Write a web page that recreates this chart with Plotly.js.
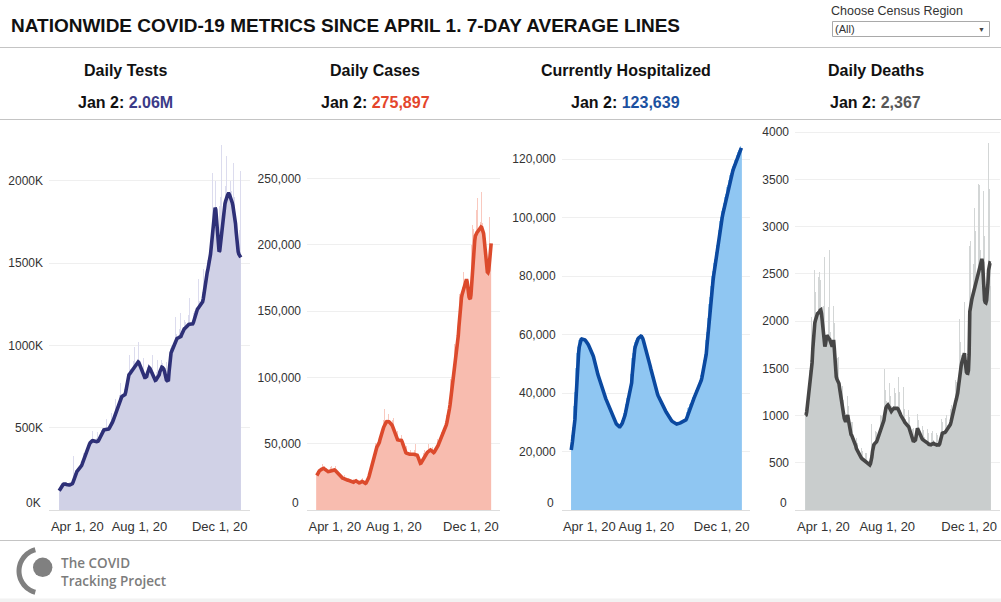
<!DOCTYPE html>
<html><head><meta charset="utf-8">
<script src="https://cdn.plot.ly/plotly-3.0.1.min.js"></script>
<style>html,body{margin:0;padding:0;background:#fff;overflow:hidden}#chart{width:1001px;height:602px}</style>
</head><body><div id="chart"></div>
<script>
// ---------- DATA (day 0 = 2020-04-01, last = 2021-01-02) ----------
const startDate = '2020-04-01';
const xTickVals = ['2020-04-01', '2020-08-01', '2020-12-01'];
const xTickText = ['\u00a0\u00a0\u00a0\u00a0\u00a0\u00a0\u00a0\u00a0\u00a0\u00a0Apr 1, 20', 'Aug 1, 20', 'Dec 1, 20'];
const panelTitles = ['Daily Tests', 'Daily Cases', 'Currently Hospitalized', 'Daily Deaths'];
const latestLabels = ['2.06M', '275,897', '123,639', '2,367'];

// Daily tests (thousands)
const testsDaily = [
117,131,154,147,230,134,155,
157,166,180,162,140,135,152,
152,160,173,158,139,137,160,
168,330,222,216,200,202,235,
240,256,283,260,230,231,270,
280,307,348,328,297,297,345,
352,380,428,400,360,359,414,
418,441,480,434,378,370,418,
416,436,473,431,382,380,442,
455,489,540,494,437,429,488,
488,512,556,504,441,433,496,
502,536,591,542,481,479,556,
568,609,675,622,554,553,642,
655,699,771,705,619,609,694,
696,733,800,736,666,678,795,
812,863,942,857,756,744,850,
855,903,990,902,796,783,895,
898,945,1021,913,788,761,855,
840,866,926,832,725,709,808,
812,872,969,888,778,757,852,
845,880,944,839,722,699,788,
790,836,914,830,729,723,840,
856,909,1050,892,776,753,842,
820,840,901,810,707,695,840,
900,987,1150,994,878,867,993,
1005,1069,1174,1069,938,919,1046,
1048,1103,1199,1087,959,949,1090,
1097,1155,1257,1141,1003,986,1124,
1128,1184,1287,1164,1017,995,1131,
1132,1197,1317,1210,1076,1063,1214,
1220,1286,1402,1271,1114,1093,1248,
1256,1328,1465,1354,1215,1219,1410,
1428,1517,1667,1524,1347,1338,1555,
1595,1717,2050,1751,1575,1750,2000,
2000,1200,1500,1650,1450,1500,1850,
1900,1748,2220,1800,1610,1600,1845,
1862,1972,2150,2000,1720,1690,2110,
1915,2000,2170,1940,1680,1630,2110,
1900,1950,1150,1450,1400,1450,1600,
1550,1700,1250,2060];
// 7-day average tests (thousands)
const testsAvg = [
117,125,135,143,148,152,155,
157,158,158,157,155,153,152,
152,152,152,153,154,156,160,
168,180,195,210,222,230,235,
240,244,248,252,256,262,270,
280,292,305,318,330,338,345,
352,362,375,388,400,408,414,
418,420,421,421,420,420,418,
416,415,415,418,424,432,442,
455,466,474,480,485,487,488,
488,488,488,489,490,492,496,
502,510,518,526,534,544,556,
568,580,592,604,616,628,642,
655,666,676,684,688,692,694,
696,698,702,715,740,770,795,
812,822,826,832,840,846,850,
855,860,868,876,884,890,895,
898,900,896,886,875,865,855,
840,825,812,808,806,806,808,
812,830,850,862,864,860,852,
845,838,828,815,802,794,788,
790,796,802,806,810,822,840,
856,866,868,866,862,856,842,
820,800,790,786,786,790,840,
900,940,955,965,975,985,993,
1005,1018,1030,1038,1042,1044,1046,
1048,1050,1052,1055,1065,1078,1090,
1097,1100,1103,1108,1114,1120,1124,
1128,1128,1129,1130,1130,1131,1131,
1132,1140,1155,1175,1195,1208,1214,
1220,1225,1230,1234,1238,1242,1248,
1256,1265,1285,1315,1350,1385,1410,
1428,1445,1462,1480,1497,1520,1555,
1595,1635,1670,1700,1750,1800,1838,
1825,1780,1720,1660,1600,1570,1575,
1615,1665,1705,1750,1790,1822,1845,
1862,1878,1895,1905,1915,1922,1922,
1915,1905,1892,1880,1868,1850,1828,
1805,1778,1740,1690,1630,1595,1570,
1555,1545,1538,1535];

// Daily cases (thousands)
const casesDaily = [
26.5,28.6,30.8,29.1,26.0,26.4,30.5,
31.3,33.3,34.7,31.9,27.6,27.3,30.5,
30.6,31.9,32.7,29.6,25.4,25.5,29.2,
30.1,32.1,33.4,30.6,26.7,26.8,30.4,
30.8,32.4,33.0,29.6,24.9,24.3,27.0,
26.9,27.9,28.2,25.3,21.6,21.3,24.0,
24.3,25.4,26.1,23.5,20.1,20.0,22.6,
23.0,24.2,24.9,22.4,19.1,18.8,21.1,
21.3,22.5,23.4,21.7,19.2,19.4,22.0,
22.0,22.8,23.2,20.9,18.0,18.1,20.9,
21.6,23.1,24.1,21.7,18.5,18.0,20.2,
20.5,22.0,23.7,22.6,20.4,21.3,25.8,
28.4,32.2,35.3,33.7,30.8,32.7,39.5,
42.3,47.0,50.4,47.2,41.6,42.4,48.8,
50.5,55.1,59.4,56.3,50.2,51.3,59.6,
62.2,67.5,76.5,66.5,58.1,58.4,66.6,
68.0,72.0,75.5,67.5,57.9,57.5,64.7,
65.3,68.0,69.2,61.6,51.7,50.2,55.5,
55.4,57.7,59.2,53.8,46.4,46.6,53.0,
54.0,56.7,57.7,50.8,42.1,40.5,44.6,
44.7,46.7,47.9,43.4,37.2,37.0,42.0,
42.8,45.4,47.2,42.9,37.1,37.1,42.1,
42.8,45.1,50.0,42.4,36.6,36.3,40.2,
39.3,39.7,39.9,35.9,31.2,31.9,37.5,
39.6,43.0,45.5,42.0,36.8,37.3,42.9,
44.3,47.4,49.7,45.8,39.8,39.8,44.9,
45.2,47.2,48.5,44.2,38.5,39.1,45.2,
46.8,50.3,53.2,49.6,43.8,44.9,52.3,
54.6,58.9,62.0,57.4,50.2,50.9,59.0,
61.7,67.3,71.9,67.3,59.8,62.0,73.2,
77.8,85.9,99.0,89.8,81.4,84.9,100.5,
107.1,125.0,142.0,120.0,101.6,105.2,130.0,
140.0,150.0,163.0,155.0,137.7,140.8,162.0,
167.8,179.3,196.0,172.4,150.5,152.2,172.0,
182.0,110.0,150.0,155.0,138.0,158.0,180.0,
200.0,215.0,230.0,212.0,180.0,185.0,206.0,
212.0,226.0,235.0,214.0,185.0,186.0,212.0,
217.0,230.0,240.0,216.0,185.0,183.0,198.0,
195.0,205.0,98.0,155.0,150.0,160.0,185.0,
221.0,225.0,152.0,275.897];
// 7-day average cases (thousands)
const casesAvg = [
26.0,26.5,27.5,28.5,29.5,30.0,30.5,
30.7,30.8,31.0,31.3,31.4,31.0,30.5,
30.0,29.5,29.2,29.0,28.9,29.0,29.2,
29.5,29.7,29.8,30.0,30.3,30.5,30.4,
30.2,30.0,29.5,29.0,28.3,27.6,27.0,
26.4,25.8,25.2,24.8,24.5,24.2,24.0,
23.8,23.5,23.3,23.0,22.8,22.7,22.6,
22.5,22.4,22.2,22.0,21.7,21.4,21.1,
20.9,20.8,20.9,21.3,21.8,22.1,22.0,
21.6,21.1,20.7,20.5,20.5,20.6,20.9,
21.2,21.4,21.5,21.3,21.0,20.5,20.2,
20.1,20.4,21.2,22.2,23.2,24.2,25.8,
27.8,29.8,31.5,33.0,35.0,37.2,39.5,
41.5,43.5,45.0,46.3,47.3,48.2,48.8,
49.5,51.0,53.0,55.2,57.0,58.3,59.6,
61.0,62.5,64.0,65.2,66.0,66.4,66.6,
66.7,66.7,66.5,66.2,65.8,65.3,64.7,
64.0,63.0,61.8,60.4,58.7,57.0,55.5,
54.3,53.4,52.9,52.7,52.7,52.9,53.0,
52.9,52.5,51.5,49.8,47.8,46.0,44.6,
43.8,43.2,42.8,42.5,42.3,42.1,42.0,
42.0,42.0,42.1,42.1,42.2,42.2,42.1,
42.0,41.8,41.7,41.6,41.6,41.3,40.2,
38.5,36.8,35.6,35.2,35.4,36.2,37.5,
38.8,39.8,40.6,41.2,41.8,42.4,42.9,
43.4,43.9,44.4,44.9,45.2,45.2,44.9,
44.3,43.7,43.3,43.3,43.7,44.4,45.2,
45.9,46.6,47.5,48.6,49.8,51.0,52.3,
53.5,54.5,55.4,56.3,57.0,57.8,59.0,
60.5,62.3,64.2,66.0,68.0,70.5,73.2,
76.3,79.5,83.5,88.0,92.5,96.5,100.5,
105.0,108.5,110.5,112.5,115.5,119.5,125.0,
131.5,138.5,145.5,152.0,156.5,160.0,162.5,
164.5,166.0,167.5,169.0,171.0,173.0,174.0,
172.0,167.0,162.5,160.5,159.5,159.0,162.0,
170.0,178.0,185.5,192.0,198.0,203.0,206.5,
208.0,209.0,209.5,210.0,210.8,211.5,212.0,
212.8,213.3,213.0,212.0,210.5,208.5,204.0,
198.5,193.5,188.5,183.0,179.5,179.0,180.5,
185.0,192.5,199.0,201.0];

// Currently hospitalized (thousands)
const hospDaily = [
25.5,27.0,28.3,31.0,35.5,40.5,45.0,
48.5,51.5,53.8,55.8,57.2,58.0,58.3,
58.5,58.5,58.5,58.4,58.3,58.2,58.0,
57.8,57.5,57.2,56.8,56.4,56.0,55.5,
55.0,54.5,54.0,53.5,53.0,52.5,51.8,
51.0,50.0,49.0,48.2,47.4,46.5,45.8,
45.0,44.2,43.5,42.8,42.0,41.3,40.6,
40.0,39.5,39.0,38.6,38.1,37.6,37.1,
36.6,36.1,35.6,35.0,34.4,33.8,33.2,
32.6,32.0,31.5,31.0,30.6,30.2,29.8,
29.5,29.3,29.0,28.8,28.6,28.5,28.5,
28.7,29.0,29.4,29.8,30.3,30.8,31.5,
32.3,33.2,34.2,35.3,36.4,37.5,38.4,
39.0,39.5,40.3,41.5,43.5,46.5,49.5,
52.0,53.8,55.0,56.0,56.8,57.5,58.0,
58.4,58.8,59.1,59.3,59.4,59.5,59.4,
59.2,58.7,58.0,57.3,56.6,55.9,55.1,
54.3,53.5,52.7,51.9,51.1,50.2,49.3,
48.4,47.5,46.6,45.7,44.8,43.9,43.0,
42.2,41.5,40.8,40.2,39.6,39.1,38.6,
38.1,37.7,37.2,36.8,36.3,35.9,35.4,
35.0,34.6,34.3,33.9,33.5,33.1,32.7,
32.3,32.0,31.7,31.4,31.1,30.8,30.5,
30.3,30.1,29.9,29.7,29.6,29.5,29.5,
29.4,29.4,29.4,29.5,29.6,29.7,29.8,
29.9,30.0,30.1,30.2,30.3,30.4,30.5,
30.6,30.8,31.2,31.8,32.6,33.4,34.2,
34.9,35.4,35.8,36.2,36.6,37.1,37.6,
38.2,38.7,39.2,39.7,40.1,40.5,40.9,
41.3,41.8,42.3,42.9,43.6,44.4,45.3,
46.3,47.3,48.2,49.0,50.0,51.4,53.3,
55.7,58.3,60.8,63.3,65.8,68.2,70.5,
72.7,74.7,76.6,78.4,80.1,81.7,83.2,
84.6,85.8,87.0,88.2,89.3,90.6,92.2,
94.0,95.8,97.6,99.0,100.2,101.3,102.3,
103.2,104.0,104.9,105.9,107.0,108.2,109.4,
110.4,111.3,112.1,112.9,113.7,114.5,115.2,
115.9,116.6,117.2,117.8,118.4,119.0,119.6,
120.2,120.8,121.4,122.0,122.6,123.1,123.5,
123.9,124.3,124.6,123.639];
const hospAvg = [
20.5,21.5,23.5,25.5,27.0,28.3,31.0,
35.5,40.5,45.0,48.5,51.5,53.8,55.8,
57.2,58.0,58.3,58.5,58.5,58.5,58.4,
58.3,58.2,58.0,57.8,57.5,57.2,56.8,
56.4,56.0,55.5,55.0,54.5,54.0,53.5,
53.0,52.5,51.8,51.0,50.0,49.0,48.2,
47.4,46.5,45.8,45.0,44.2,43.5,42.8,
42.0,41.3,40.6,40.0,39.5,39.0,38.6,
38.1,37.6,37.1,36.6,36.1,35.6,35.0,
34.4,33.8,33.2,32.6,32.0,31.5,31.0,
30.6,30.2,29.8,29.5,29.3,29.0,28.8,
28.6,28.5,28.5,28.7,29.0,29.4,29.8,
30.3,30.8,31.5,32.3,33.2,34.2,35.3,
36.4,37.5,38.4,39.0,39.5,40.3,41.5,
43.5,46.5,49.5,52.0,53.8,55.0,56.0,
56.8,57.5,58.0,58.4,58.8,59.1,59.3,
59.4,59.5,59.4,59.2,58.7,58.0,57.3,
56.6,55.9,55.1,54.3,53.5,52.7,51.9,
51.1,50.2,49.3,48.4,47.5,46.6,45.7,
44.8,43.9,43.0,42.2,41.5,40.8,40.2,
39.6,39.1,38.6,38.1,37.7,37.2,36.8,
36.3,35.9,35.4,35.0,34.6,34.3,33.9,
33.5,33.1,32.7,32.3,32.0,31.7,31.4,
31.1,30.8,30.5,30.3,30.1,29.9,29.7,
29.6,29.5,29.5,29.4,29.4,29.4,29.5,
29.6,29.7,29.8,29.9,30.0,30.1,30.2,
30.3,30.4,30.5,30.6,30.8,31.2,31.8,
32.6,33.4,34.2,34.9,35.4,35.8,36.2,
36.6,37.1,37.6,38.2,38.7,39.2,39.7,
40.1,40.5,40.9,41.3,41.8,42.3,42.9,
43.6,44.4,45.3,46.3,47.3,48.2,49.0,
50.0,51.4,53.3,55.7,58.3,60.8,63.3,
65.8,68.2,70.5,72.7,74.7,76.6,78.4,
80.1,81.7,83.2,84.6,85.8,87.0,88.2,
89.3,90.6,92.2,94.0,95.8,97.6,99.0,
100.2,101.3,102.3,103.2,104.0,104.9,105.9,
107.0,108.2,109.4,110.4,111.3,112.1,112.9,
113.7,114.5,115.2,115.9,116.6,117.2,117.8,
118.4,119.0,119.6,120.2,120.8,121.4,122.0,
122.6,123.1,123.5,123.9];

// Daily deaths
const deathsDaily = [
1010,1156,1092,1012,835,959,1480,
1584,1587,2040,2060,1224,1427,2350,
2540,2312,2142,1900,1498,1626,2466,
2520,2432,2226,1914,1447,1498,2159,
2680,1990,1848,1674,1332,1435,2148,
2178,2750,1880,1638,1267,1349,2077,
2160,1978,1659,1334,1015,1080,1611,
1620,1541,1355,1132,850,889,1310,
1272,1162,1019,874,673,749,1168,
1206,1104,945,782,587,624,932,
930,874,782,672,511,530,767,
762,707,625,534,410,440,655,
654,621,559,483,374,402,604,
606,573,515,446,300,372,578,
910,644,651,616,497,546,832,
854,831,777,699,562,624,962,
1008,995,929,833,661,741,1490,
1271,1242,1150,1017,801,858,1350,
1300,1202,1097,971,770,841,1510,
1291,1240,1134,992,775,835,1410,
1254,1179,1055,915,711,761,1300,
1134,1070,964,837,649,698,1048,
1058,989,872,741,569,593,856,
866,840,775,682,562,655,1021,
1020,955,851,730,562,597,887,
894,852,775,676,526,566,853,
858,811,730,635,495,538,820,
840,811,741,644,500,538,812,
826,794,722,635,504,573,1130,
966,934,856,751,589,641,979,
1008,974,898,796,632,696,1068,
1116,1110,1061,966,774,854,1322,
1380,1351,1260,1141,936,1076,2020,
1776,1748,1638,1463,1166,1287,2200,
2280,1200,1400,1100,800,1150,2500,
2800,2850,2600,2250,1450,1600,2600,
3200,2950,2600,2236,1550,1700,3450,
3440,3000,2751,2433,1750,1900,3380,
3250,2900,1500,1450,1400,1900,3300,
3890,3400,2100,2367];
const deathsAvg = [
1000,1005,1040,1100,1160,1230,1290,
1320,1380,1450,1560,1700,1830,1920,
1980,2010,2040,2065,2080,2085,2090,
2100,2115,2120,2080,2010,1920,1830,
1760,1730,1760,1820,1850,1840,1820,
1815,1810,1790,1780,1760,1730,1760,
1800,1720,1580,1450,1410,1385,1365,
1350,1340,1290,1230,1180,1140,1110,
1060,1010,970,950,935,960,990,
1005,960,900,850,815,800,790,
775,760,745,730,710,680,650,
635,615,595,580,570,564,555,
545,540,532,525,520,515,512,
505,498,490,485,480,477,490,
512,560,620,670,690,700,705,
712,723,740,760,780,800,815,
840,865,885,905,918,950,1000,
1059,1080,1095,1105,1112,1100,1080,
1060,1045,1045,1055,1070,1078,1078,
1076,1078,1080,1078,1076,1070,1060,
1045,1025,1005,995,988,975,960,
945,930,918,910,902,895,888,
882,860,830,805,790,760,725,
722,730,738,741,780,840,865,
850,830,810,794,780,765,752,
745,741,738,735,730,726,723,
715,705,695,690,688,690,695,
700,705,706,700,695,690,688,
688,690,688,690,700,735,780,
805,812,815,816,818,822,830,
840,847,855,865,878,892,905,
930,965,1010,1050,1075,1095,1120,
1150,1175,1200,1240,1300,1380,1440,
1480,1520,1560,1590,1620,1650,1660,
1580,1480,1460,1450,1448,1480,1650,
2100,2170,2200,2230,2260,2290,2330,
2360,2380,2400,2430,2470,2500,2530,
2560,2590,2620,2645,2660,2620,2450,
2280,2220,2200,2195,2220,2290,2400,
2540,2610,2615,2612];

// Y-axis ticks
const testsTicks = [500, 1000, 1500, 2000];
const testsTickText = ['500K', '1000K', '1500K', '2000K'];
const casesTicks = [50, 100, 150, 200, 250];
const casesTickText = ['50,000', '100,000', '150,000', '200,000', '250,000'];
const hospTicks = [20, 40, 60, 80, 100, 120];
const hospTickText = ['20,000', '40,000', '60,000', '80,000', '100,000', '120,000'];
const deathsTicks = [500, 1000, 1500, 2000, 2500, 3000, 3500, 4000];
const deathsTickText = ['500', '1000', '1500', '2000', '2500', '3000', '3500', '4000'];
const zeroLabels = ['0K', '0', '0', '0'];

// ---------- BUILD ----------
const W = 1001, H = 602;
const px = x => x / W;
const py = y => 1 - y / H;
const dates = testsDaily.map((_, i) => {
  const d = new Date(startDate + 'T00:00:00Z');
  d.setUTCDate(d.getUTCDate() + i);
  return d.toISOString().slice(0, 10);
});

const FONT = 'Liberation Sans, Arial, sans-serif';
const panels = [
  {daily: testsDaily, avg: testsAvg, bar: '#d0d1e6', spike: '#dcdcee', line: '#2e3077', val: '#3b3b88', dom: [49, 250], yr: [0, 2340], tv: testsTicks, tt: testsTickText, cx: 125},
  {daily: casesDaily, avg: casesAvg, bar: '#f8bcaf', spike: '#f9c9bf', line: '#dc4a2c', val: '#e4462c', dom: [307, 500], yr: [0, 290.2], tv: casesTicks, tt: casesTickText, cx: 375},
  {daily: hospDaily, avg: hospAvg, bar: '#8fc6f2', spike: '#a3d0f4', line: '#0b49a0', val: '#1c51a0', dom: [561.7, 750], yr: [0, 131.7], tv: hospTicks, tt: hospTickText, cx: 625.5},
  {daily: deathsDaily, avg: deathsAvg, bar: '#c9cdcd', spike: '#d3d6d6', line: '#464646', val: '#585858', dom: [795, 1000], yr: [0, 4077], tv: deathsTicks, tt: deathsTickText, cx: 875.5}
];

const traces = [];
const layout = {
  width: W, height: H, margin: {l: 0, r: 0, t: 0, b: 0},
  paper_bgcolor: '#ffffff', plot_bgcolor: 'rgba(0,0,0,0)',
  showlegend: false, hovermode: false, bargap: 0,
  font: {family: FONT, color: '#333', size: 12},
  annotations: [], shapes: []
};
const yDom = [py(510), py(125)];

panels.forEach((p, i) => {
  const n = i === 0 ? '' : String(i + 1);
  const xa = 'x' + n, ya = 'y' + n;
  traces.push({type: 'bar', x: dates, y: p.daily, xaxis: xa, yaxis: ya,
    width: 86400000, marker: {color: p.spike, line: {width: 0}}});
  traces.push({type: 'scatter', mode: 'lines', x: dates, y: p.avg, xaxis: xa, yaxis: ya,
    fill: 'tozeroy', fillcolor: p.bar, line: {color: p.line, width: 3.6}});
  layout['xaxis' + n] = {
    domain: [px(p.dom[0]), px(p.dom[1])], anchor: ya, type: 'date',
    range: ['2020-03-16 12:00', '2021-01-16'],
    tickvals: xTickVals, ticktext: xTickText, ticks: '', showgrid: false, zeroline: false,
    showline: true, linecolor: '#dddddd', linewidth: 1,
    tickfont: {family: FONT, size: 13, color: '#333'}, ticklabelstandoff: 4, fixedrange: true
  };
  layout['yaxis' + n] = {
    domain: yDom, anchor: xa, range: p.yr, tickvals: p.tv, ticktext: p.tt, ticks: '',
    showgrid: true, gridcolor: '#efefef', gridwidth: 1, zeroline: false, showline: false,
    tickfont: {family: FONT, size: 12, color: '#333'}, ticklabelstandoff: 5, fixedrange: true
  };
  layout.annotations.push({xref: 'paper', yref: ya, x: px(p.dom[0]), y: 0, xanchor: 'right', yanchor: 'middle',
    xshift: -6, yshift: 7, text: zeroLabels[i], showarrow: false, font: {family: FONT, size: 12, color: '#333'}});
  layout.annotations.push({xref: 'paper', yref: 'paper', x: px(p.cx), y: py(70.5), xanchor: 'center', yanchor: 'middle',
    text: '<b>' + panelTitles[i] + '</b>', showarrow: false, font: {family: FONT, size: 16, color: '#111'}});
  layout.annotations.push({xref: 'paper', yref: 'paper', x: px(p.cx), y: py(103), xanchor: 'center', yanchor: 'middle',
    text: '<b>Jan 2: <span style="color:' + p.val + '">' + latestLabels[i] + '</span></b>', showarrow: false,
    font: {family: FONT, size: 16, color: '#111'}});
});

// title + filter control
layout.annotations.push({xref: 'paper', yref: 'paper', x: px(9), y: py(25.5), xanchor: 'left', yanchor: 'middle',
  text: '<b>NATIONWIDE COVID-19 METRICS SINCE APRIL 1. 7-DAY AVERAGE LINES</b>', showarrow: false,
  font: {family: FONT, size: 19, color: '#111'}});
layout.annotations.push({xref: 'paper', yref: 'paper', x: px(829), y: py(10.5), xanchor: 'left', yanchor: 'middle',
  text: 'Choose Census Region', showarrow: false, font: {family: FONT, size: 12.5, color: '#333'}});
layout.annotations.push({xref: 'paper', yref: 'paper', x: px(833), y: py(29), xanchor: 'left', yanchor: 'middle',
  text: '(All)', showarrow: false, font: {family: FONT, size: 11, color: '#333'}});
layout.annotations.push({xref: 'paper', yref: 'paper', x: px(981), y: py(29), xanchor: 'center', yanchor: 'middle',
  text: '\u25BC', showarrow: false, font: {family: FONT, size: 7, color: '#444'}});
layout.shapes.push({type: 'rect', xref: 'paper', yref: 'paper', x0: px(832.5), x1: px(989.5), y0: py(21.5), y1: py(36.5),
  line: {color: '#a9a9a9', width: 1}, fillcolor: '#ffffff', layer: 'below'});

// separators and footer band
[47.5, 119.5, 540.5].forEach(y => layout.shapes.push({type: 'line', xref: 'paper', yref: 'paper',
  x0: 0, x1: 1, y0: py(y), y1: py(y), line: {color: '#c4c4c4', width: 1}, layer: 'below'}));
layout.shapes.push({type: 'rect', xref: 'paper', yref: 'paper', x0: 0, x1: 1, y0: 0, y1: py(598.5),
  line: {width: 0}, fillcolor: '#f2f2f2', layer: 'below'});

// footer logo
function ringPath(cx, cy, r1, r2, a0, a1) {
  const pts = [];
  const steps = 40;
  for (let k = 0; k <= steps; k++) {
    const a = (a0 + (a1 - a0) * k / steps) * Math.PI / 180;
    pts.push([cx + r2 * Math.cos(a), cy + r2 * Math.sin(a)]);
  }
  for (let k = steps; k >= 0; k--) {
    const a = (a0 + (a1 - a0) * k / steps) * Math.PI / 180;
    pts.push([cx + r1 * Math.cos(a), cy + r1 * Math.sin(a)]);
  }
  return 'M' + pts.map(q => px(q[0]).toFixed(5) + ',' + py(q[1]).toFixed(5)).join('L') + 'Z';
}
layout.shapes.push({type: 'path', xref: 'paper', yref: 'paper', path: ringPath(41, 571, 19.5, 24.5, 105, 255),
  fillcolor: '#808080', line: {width: 0}});
layout.shapes.push({type: 'circle', xref: 'paper', yref: 'paper', x0: px(33), x1: px(52.4), y0: py(577), y1: py(557.6),
  fillcolor: '#808080', line: {width: 0}});
layout.annotations.push({xref: 'paper', yref: 'paper', x: px(59), y: py(571.5), xanchor: 'left', yanchor: 'middle', align: 'left',
  text: 'The COVID<br>Tracking Project', showarrow: false,
  font: {family: 'Open Sans, sans-serif', size: 13.5, weight: 600, color: '#7c7c7c'}});

Plotly.newPlot('chart', traces, layout, {displayModeBar: false, staticPlot: true});
</script>
</body></html>
